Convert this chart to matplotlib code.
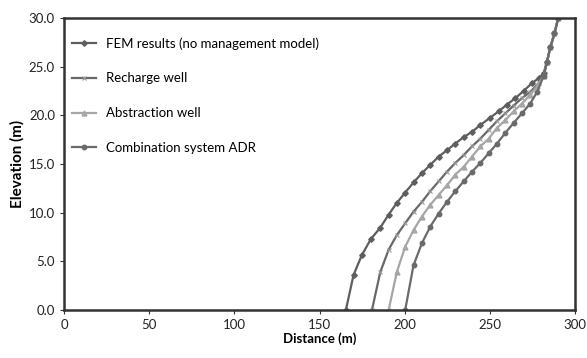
import matplotlib
matplotlib.use("Agg")
import matplotlib.pyplot as plt

plt.rcParams['font.family'] = ['Lato', 'DejaVu Sans']

fem_x = [165.4, 169.9, 174.8, 180.1, 185.6, 190.5, 195.3, 200.2, 205.1, 210.0, 214.9, 219.8, 224.7,
         229.6, 234.5, 239.4, 244.3, 249.7, 255.0, 259.9, 264.8, 269.7, 274.6, 278.5, 281.4, 283.4,
         285.4, 287.8, 290.0]
fem_y = [0.0, 3.6, 5.65, 7.3, 8.46, 9.8, 11.0, 12.06, 13.1, 14.05, 14.9, 15.75, 16.4,
         17.1, 17.75, 18.3, 19.0, 19.7, 20.4, 21.1, 21.75, 22.5, 23.3, 23.8, 24.3, 25.5,
         27.0, 28.4, 30.0]

rech_x = [180.7, 185.6, 190.5, 195.3, 200.2, 205.1, 210.0, 214.9, 219.8, 224.7, 229.6, 234.5, 239.4,
          244.3, 249.2, 254.1, 259.0, 263.8, 268.7, 273.6, 278.5, 281.4, 283.4, 285.4, 287.8, 290.0]
rech_y = [0.0, 3.9, 6.2, 7.7, 8.9, 10.1, 11.1, 12.2, 13.2, 14.2, 15.1, 15.9, 16.8,
          17.6, 18.5, 19.4, 20.2, 21.0, 21.75, 22.4, 23.3, 24.0, 25.5, 27.0, 28.4, 30.0]

abs_x = [190.5, 195.3, 200.2, 205.1, 210.0, 214.9, 219.8, 224.7, 229.6, 234.5, 239.4, 244.3, 249.2,
         254.1, 259.0, 263.8, 268.7, 273.6, 277.6, 281.4, 283.4, 285.4, 287.8, 290.0]
abs_y = [0.0, 3.9, 6.5, 8.2, 9.6, 10.8, 11.8, 12.8, 13.9, 14.7, 15.75, 16.8, 17.6,
         18.7, 19.5, 20.4, 21.2, 22.1, 23.0, 24.0, 25.5, 27.0, 28.4, 30.0]

adr_x = [200.2, 205.1, 210.0, 214.9, 219.8, 224.7, 229.6, 234.5, 239.4, 244.3, 249.2, 254.1, 259.0,
         263.8, 268.7, 273.6, 277.6, 281.4, 283.4, 285.4, 287.8, 290.0]
adr_y = [0.0, 4.6, 6.85, 8.56, 9.9, 11.1, 12.2, 13.2, 14.2, 15.1, 16.1, 17.1, 18.2,
         19.2, 20.2, 21.2, 22.4, 24.0, 25.5, 27.0, 28.4, 30.0]

labels = ["FEM results (no management model)", "Recharge well", "Abstraction well",
          "Combination system ADR"]
x_ticks = [0, 50, 100, 150, 200, 250, 300]
y_ticks = [0.0, 5.0, 10.0, 15.0, 20.0, 25.0, 30.0]

fig = plt.figure(figsize=(5.87, 3.58), dpi=100)
ax = fig.add_axes([0.109, 0.134, 0.871, 0.816])

ax.plot(fem_x, fem_y, color='#5e5e5e', lw=1.6, marker='D', ms=2.8, label=labels[0])
ax.plot(rech_x, rech_y, color='#686868', lw=1.6, marker='x', ms=3.5, mec='#9a9a9a', mew=0.8, label=labels[1])
ax.plot(abs_x, abs_y, color='#a6a6a6', lw=1.6, marker='^', ms=3.5, label=labels[2])
ax.plot(adr_x, adr_y, color='#6a6a6a', lw=1.6, marker='o', ms=3.2, label=labels[3])

ax.set_xlim(0, 300)
ax.set_ylim(0, 30)
ax.set_xticks(x_ticks)
ax.set_yticks(y_ticks)
ax.set_yticklabels([f"{v:.1f}" for v in y_ticks])
ax.tick_params(labelsize=9.5, length=3, width=0.8, colors='#333333', labelcolor='#222222')
for s in ax.spines.values():
    s.set_linewidth(1.8)
    s.set_color('#333333')

ax.set_xlabel("Distance (m)", fontsize=9.5, fontweight='bold', labelpad=1)
ax.set_ylabel("Elevation (m)", fontsize=11, fontweight='bold', labelpad=3)

leg = ax.legend(loc='upper left', frameon=False, fontsize=9.5, labelspacing=1.73,
                handlelength=1.8, handletextpad=0.8, bbox_to_anchor=(-0.008, 0.975))

fig.savefig("out.png", dpi=100)
